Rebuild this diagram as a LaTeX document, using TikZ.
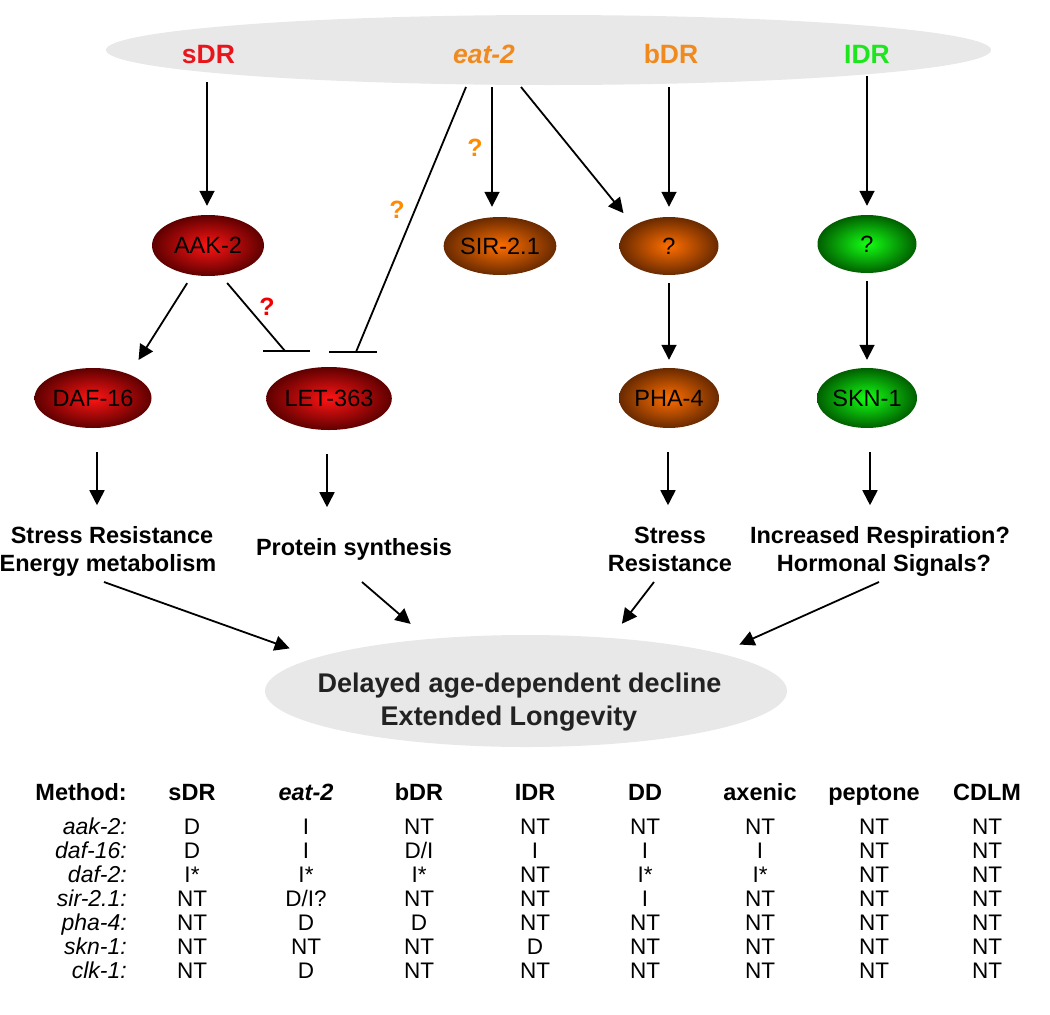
\documentclass[tikz,border=0pt]{standalone}
\usepackage{fontspec}
\setmainfont{Liberation Sans}
\usetikzlibrary{shapes.geometric,arrows.meta}
\definecolor{bggray}{RGB}{232,232,232}
\definecolor{lblred}{RGB}{232,22,28}
\definecolor{lblor}{RGB}{240,138,30}
\definecolor{lblgr}{RGB}{30,230,30}
\definecolor{qred}{RGB}{240,0,0}
\definecolor{qor}{RGB}{255,140,0}
\definecolor{rin}{RGB}{255,20,20}
\definecolor{rout}{RGB}{95,0,0}
\definecolor{oin}{RGB}{255,110,0}
\definecolor{oout}{RGB}{105,42,0}
\definecolor{gin}{RGB}{20,255,20}
\definecolor{gout}{RGB}{0,95,0}
\definecolor{dtext}{RGB}{34,34,34}
\newcommand\tabrow[3]{%
  \node[rl] (rl#1) at (127,{834.7+24*(#1-1)}) {\textit{#2:}};
  \foreach \v [count=\c] in {#3} {%
    \pgfmathsetmacro\xx{{192,306,419,535,645,760,874,987}[\c-1]}%
    \node[td] (v#1-\c) at (\xx,{834.7+24*(#1-1)}) {\v};
  }%
}
\begin{document}
\begin{tikzpicture}[x=1pt,y=-1pt,
  toplab/.style={font=\fontsize{26.5}{30}\selectfont\bfseries, anchor=base, inner sep=0},
  gene/.style={ellipse, inner sep=0, font=\fontsize{23.5}{27}\selectfont, text=black},
  genered/.style={gene, inner color=rin, outer color=rout},
  geneor/.style={gene, inner color=oin, outer color=oout},
  genegr/.style={gene, inner color=gin, outer color=gout},
  arr/.style={line width=1.8pt, -{Triangle[length=15pt,width=15pt]}},
  inh/.style={line width=1.8pt},
  qmark/.style={font=\fontsize{25}{30}\selectfont\bfseries, inner sep=0},
  txt/.style={font=\fontsize{23.5}{28}\selectfont\bfseries, anchor=base, inner sep=0},
  btxt/.style={font=\fontsize{27}{32}\selectfont\bfseries, anchor=base, inner sep=0, text=dtext},
  th/.style={font=\fontsize{23.5}{28}\selectfont\bfseries, anchor=base, inner sep=0},
  td/.style={font=\fontsize{22.5}{27}\selectfont, anchor=base, inner sep=0},
  rl/.style={font=\fontsize{23}{27}\selectfont, anchor=base east, inner sep=0}
]
\useasboundingbox (0,0) rectangle (1050,1015);

% top ellipse and labels
\node[ellipse, fill=bggray, minimum width=885pt, minimum height=70pt, inner sep=0] (top) at (548.5,50) {};
\node[toplab, text=lblred] (sdr) at (208.5,63) {sDR};
\node[toplab, text=lblor] (eat) at (484,63) {\textit{eat-2}};
\node[toplab, text=lblor] (bdr) at (671,63) {bDR};
\node[toplab, text=lblgr] (ldr) at (867,63) {IDR};

% gene nodes
\node[genered, minimum width=112pt, minimum height=61pt] (aak2) at (208,245.5) {AAK-2};
\node[geneor, minimum width=106pt, minimum height=58pt] (sir) at (500,246) {SIR-2.1};
\node[geneor, minimum width=99pt, minimum height=58pt] (qb) at (669,246) {?};
\node[genegr, minimum width=99pt, minimum height=58pt] (qg) at (867,244) {?};
\node[genered, minimum width=117pt, minimum height=60pt] (daf16) at (93,398) {DAF-16};
\node[genered, minimum width=112pt, minimum height=63pt] (let) at (329,398.5) {LET-363};
\node[geneor, minimum width=100pt, minimum height=60pt] (pha4) at (669,398) {PHA-4};
\node[genegr, minimum width=100pt, minimum height=60pt] (skn1) at (867,398) {SKN-1};

% start points under the top labels
\coordinate (s1) at (207,82);
\coordinate (e1) at (466,87);
\coordinate (e2) at (492,87);
\coordinate (e3) at (521,87);
\coordinate (b0) at (669,87);
\coordinate (l0) at (867,76);
\coordinate (b1) at (285,351);
\coordinate (b2) at (356,352);

\draw[arr, shorten >=9pt] (s1) -- (s1 |- aak2.north);
\draw[arr, shorten >=10pt] (e2) -- (e2 |- sir.north);
\draw[arr, shorten >=16pt] (e3) -- (qb.150);
\draw[arr, shorten >=10pt] (b0) -- (b0 |- qb.north);
\draw[arr, shorten >=9pt] (l0) -- (l0 |- qg.north);

% inhibitions
\draw[inh] (e1) -- (b2);
\draw[inh] ([xshift=-27pt]b2) -- ([xshift=21pt]b2);
\draw[inh, shorten <=10pt] (aak2.293) -- (b1);
\draw[inh] ([xshift=-22pt]b1) -- ([xshift=25pt]b1);

% second level
\draw[arr, shorten <=9.7pt, shorten >=17pt] (aak2.242) -- (daf16.33);
\draw[arr, shorten <=8pt, shorten >=8pt] (qb.south) -- (pha4.north);
\draw[arr, shorten <=8pt, shorten >=8pt] (qg.south) -- (skn1.north);

% question marks
\node[qmark, text=qor] (q1) at (475,148) {?};
\node[qmark, text=qor] (q2) at (397,210) {?};
\node[qmark, text=qred] (q3) at (267,307) {?};

% arrows down to outcome texts
\draw[arr, shorten <=24pt] ([xshift=4pt]daf16.south) -- ++(0,77);
\draw[arr, shorten <=24pt] ([xshift=-2pt]let.south) -- ++(0,77);
\draw[arr, shorten <=24pt] ([xshift=-1pt]pha4.south) -- ++(0,77);
\draw[arr, shorten <=24pt] ([xshift=3pt]skn1.south) -- ++(0,77);

% outcome texts
\node[txt] (o1a) at (112,543) {Stress Resistance};
\node[txt] (o1b) at (108,571) {Energy metabolism};
\node[txt] (o2) at (354,555) {Protein synthesis};
\node[txt] (o3a) at (670,543) {Stress};
\node[txt] (o3b) at (670,571) {Resistance};
\node[txt] (o4a) at (880,543) {Increased Respiration?};
\node[txt] (o4b) at (884,571) {Hormonal Signals?};

% bottom ellipse
\node[ellipse, fill=bggray, minimum width=522pt, minimum height=112pt, inner sep=0] (out) at (526,691) {};
\node[btxt] (d1) at (519.5,692) {Delayed age-dependent decline};
\node[btxt] (d2) at (509,725) {Extended Longevity};

\coordinate (t1) at (104,582);
\coordinate (t2) at (362,582);
\coordinate (t3) at (654,582);
\coordinate (t4) at (879,582);
\draw[arr, shorten >=27.6pt] (t1) -- (out.171);
\draw[arr, shorten >=23pt] (t2) -- (out.152);
\draw[arr, shorten >=17.8pt] (t3) -- (out.32);
\draw[arr, shorten >=21.5pt] (t4) -- (out.11);

% table
\node[th, anchor=base east] (mh) at (127,800) {Method:};
\foreach \x/\t [count=\i] in {192/sDR, 306/{\textit{eat-2}}, 419/bDR, 535/IDR, 645/DD, 760/axenic, 874/peptone, 987/CDLM} {
  \node[th] (h\i) at (\x,800) {\t};
}
\tabrow{1}{aak-2}{D,I,NT,NT,NT,NT,NT,NT}
\tabrow{2}{daf-16}{D,I,D/I,I,I,I,NT,NT}
\tabrow{3}{daf-2}{I*,I*,I*,NT,I*,I*,NT,NT}
\tabrow{4}{sir-2.1}{NT,D/I?,NT,NT,I,NT,NT,NT}
\tabrow{5}{pha-4}{NT,D,D,NT,NT,NT,NT,NT}
\tabrow{6}{skn-1}{NT,NT,NT,D,NT,NT,NT,NT}
\tabrow{7}{clk-1}{NT,D,NT,NT,NT,NT,NT,NT}
\end{tikzpicture}
\end{document}
